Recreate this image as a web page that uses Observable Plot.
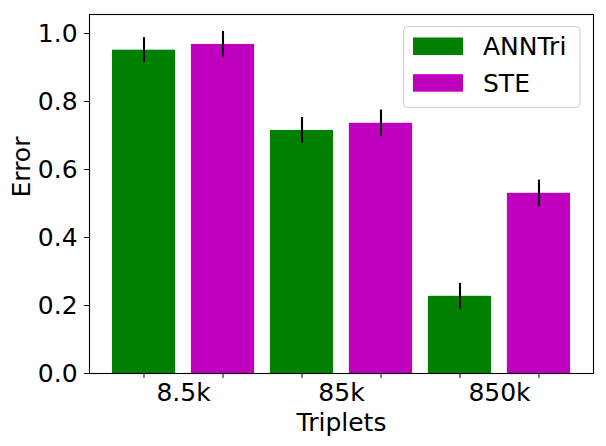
<!DOCTYPE html>
<html>
<head>
<meta charset="utf-8">
<script src="https://cdn.jsdelivr.net/npm/d3@7"></script>
<script src="https://cdn.jsdelivr.net/npm/@observablehq/plot@0.6"></script>
<style>
  html, body { margin: 0; padding: 0; background: #fff; }
  svg { display: block; }
</style>
</head>
<body>
<div id="chart"></div>
<script>
const categories = ["8.5k", "85k", "850k"];
const series = ["ANNTri", "STE"];
const colors = ["#008000", "#bf00bf"];
const annTriValues = [0.951, 0.715, 0.227];
const steValues = [0.968, 0.736, 0.530];
const annTriErrors = [0.037, 0.038, 0.038];
const steErrors = [0.038, 0.039, 0.039];
const yTicks = [0, 0.2, 0.4, 0.6, 0.8, 1.0];
const xLabel = "Triplets";
const yLabel = "Error";

const valuesBySeries = [annTriValues, steValues];
const errorsBySeries = [annTriErrors, steErrors];
const data = [];
categories.forEach((c, i) => {
  series.forEach((s, j) => {
    data.push({category: c, series: s, pos: i * series.length + j,
               value: valuesBySeries[j][i], err: errorsBySeries[j][i]});
  });
});
const barPositions = data.map(d => d.pos);
const groupCenters = categories.map((c, i) => i * series.length + (series.length - 1) / 2);
const halfWidth = 0.4;
const font = "DejaVu Sans";
const fs = 25;

const svg = Plot.plot({
  width: 606,
  height: 446,
  marginLeft: 89,
  marginRight: 13,
  marginTop: 14,
  marginBottom: 73,
  style: {fontFamily: font, fontSize: fs + "px", color: "black", background: "white"},
  x: {type: "linear", domain: [-0.69, 5.69]},
  y: {domain: [0, 1.056]},
  color: {domain: series, range: colors},
  marks: [
    Plot.rectY(data, {x1: d => d.pos - halfWidth, x2: d => d.pos + halfWidth, y1: 0, y2: "value", fill: "series"}),
    Plot.ruleX(data, {x: "pos", y1: d => d.value - d.err, y2: d => d.value + d.err, stroke: "black", strokeWidth: 2.1}),
    Plot.axisX(barPositions, {tickSize: 4.9, tickFormat: () => "", label: null, stroke: "black"}),
    Plot.axisX(groupCenters, {tickSize: 0, tickPadding: 9.4, tickFormat: v => categories[Math.round((v - 0.5) / series.length)], label: null, fontSize: fs, fill: "black"}),
    Plot.axisY(yTicks, {tickSize: 4.9, tickPadding: 7, tickFormat: d3.format(".1f"), label: null, fontSize: fs, fill: "black", stroke: "black"}),
    Plot.frame({stroke: "black", strokeWidth: 1.1}),
    Plot.text([xLabel], {text: d => d, frameAnchor: "bottom", lineAnchor: "top", dy: 39.4, fontSize: fs, fill: "black"}),
    Plot.text([yLabel], {text: d => d, frameAnchor: "left", rotate: -90, lineAnchor: "top", dx: -77, dy: 3.5, fontSize: fs, fill: "black"})
  ]
});

// Legend (matplotlib-style, upper right inside the axes)
const lg = d3.select(svg).append("g")
  .attr("font-family", font).attr("font-size", fs).attr("text-anchor", "start");
lg.append("rect")
  .attr("x", 403.5).attr("y", 26.5).attr("width", 176.5).attr("height", 81)
  .attr("rx", 4).attr("fill", "white").attr("fill-opacity", 0.8)
  .attr("stroke", "#cccccc").attr("stroke-width", 1);
series.forEach((s, j) => {
  const base = 55 + j * 36.7;
  lg.append("rect").attr("x", 413).attr("y", base - 17.5).attr("width", 50).attr("height", 17.5).attr("fill", colors[j]);
  lg.append("text").attr("x", 483).attr("y", base).attr("text-anchor", "start").attr("fill", "black").text(s);
});

document.getElementById("chart").appendChild(svg);
</script>
</body>
</html>
